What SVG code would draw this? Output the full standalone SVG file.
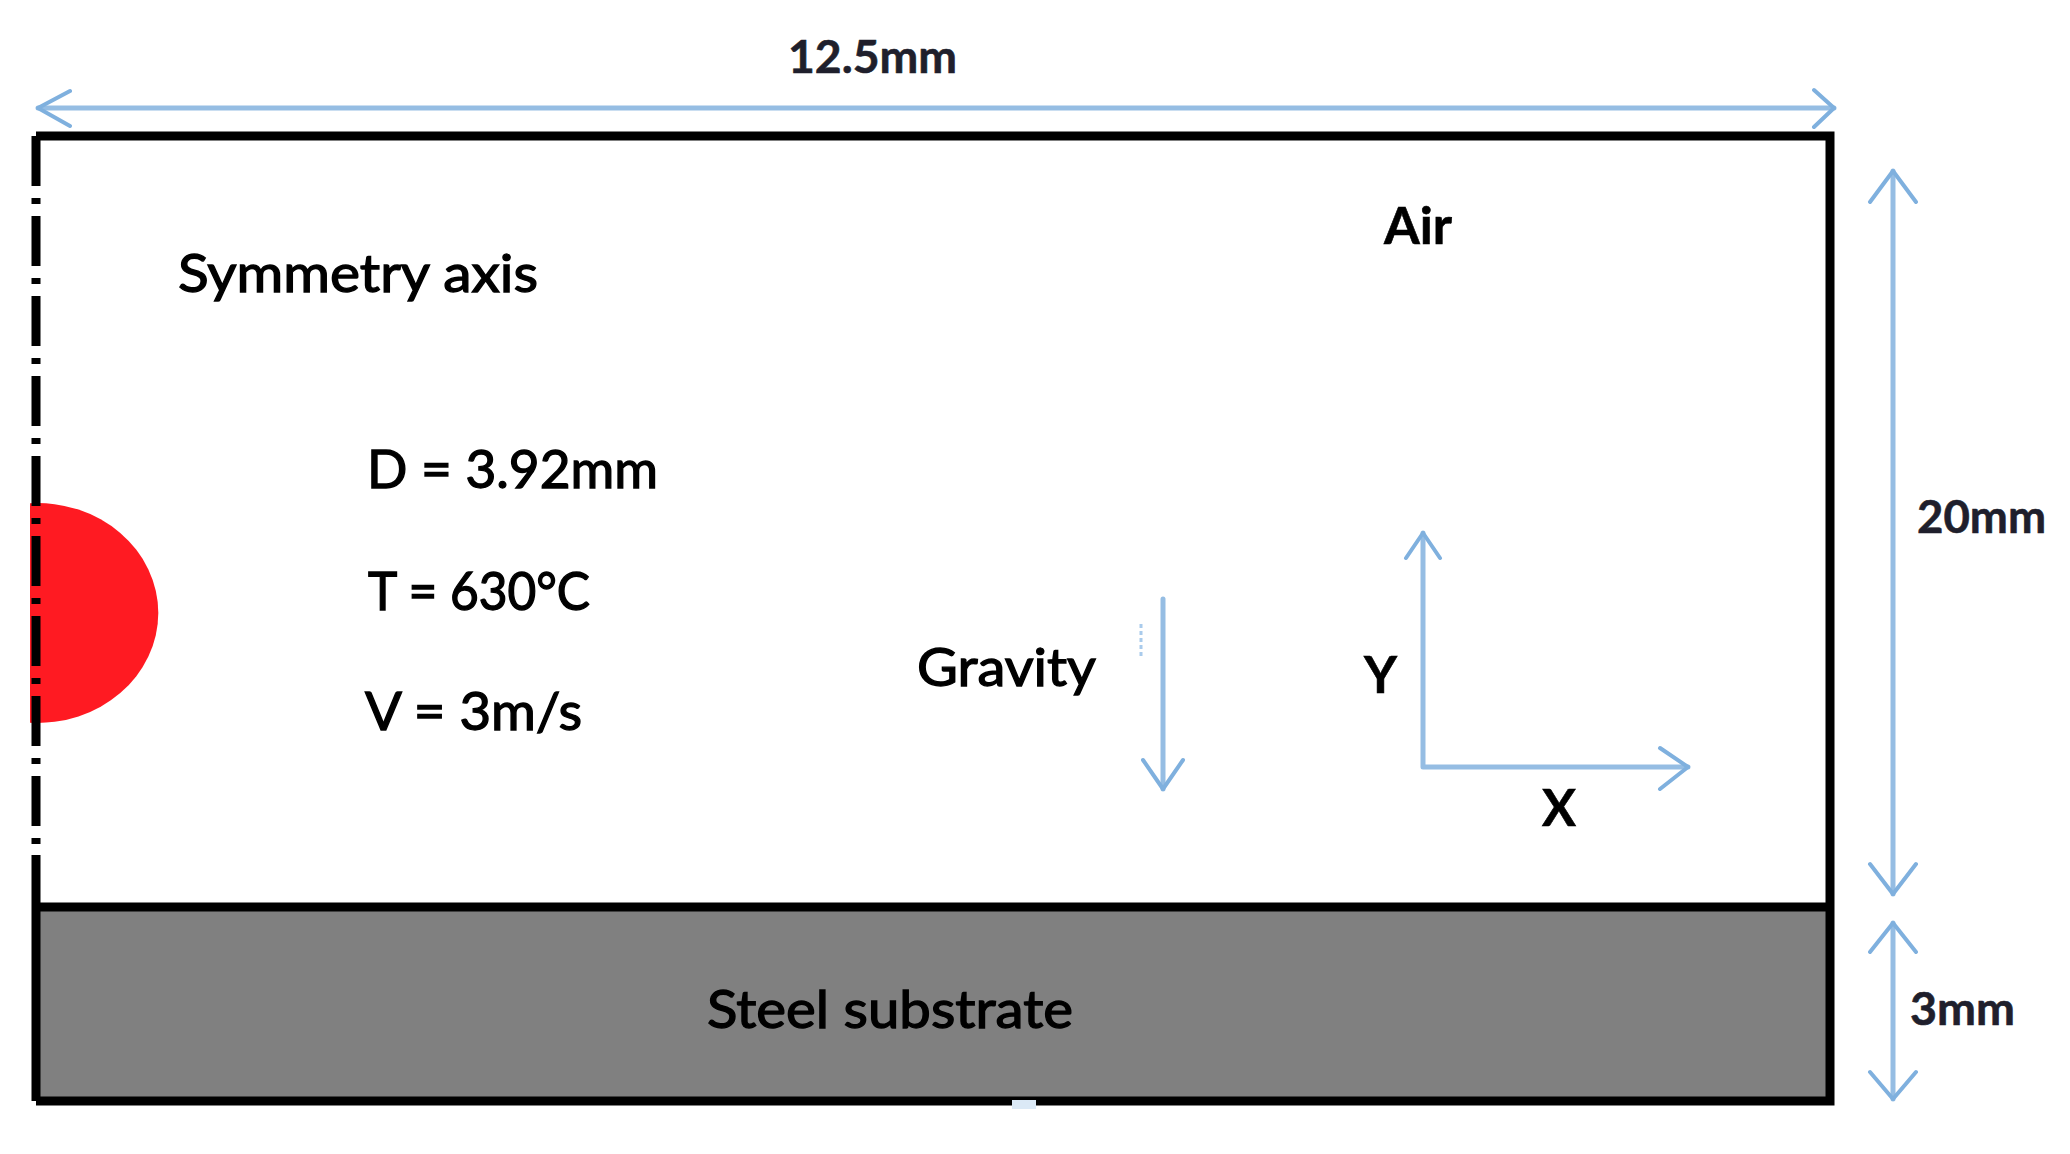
<svg xmlns="http://www.w3.org/2000/svg" width="2070" height="1154" viewBox="0 0 2070 1154">
<style>
.lbl{font-family:Lato,"Open Sans","Liberation Sans",sans-serif;font-size:52px;fill:#000;stroke:#000;stroke-width:1.3px}
.b{font-weight:bold;stroke-width:0.6px}
.dim{font-family:Lato,"Liberation Sans",sans-serif;font-weight:bold;font-size:45px;fill:#1f1f2c;stroke:#1f1f2c;stroke-width:0.6px}
.ax{fill:none;stroke:#95bde3;stroke-width:5;stroke-linecap:round;stroke-linejoin:round}
.hd{fill:none;stroke:#7fb0de;stroke-width:4;stroke-linecap:round;stroke-linejoin:round}
</style>
<rect width="2070" height="1154" fill="#fff"/>
<g id="substrate">
<rect x="36" y="907" width="1794" height="194" fill="#808080"/>
</g>
<g id="domain">
<path d="M36 136 H1830 V1101 H36" fill="none" stroke="#000" stroke-width="9"/>
<path d="M36 907 H1830" fill="none" stroke="#000" stroke-width="9"/>
<path d="M36 855 V1101" fill="none" stroke="#000" stroke-width="9"/>
</g>
<g id="droplet">
<path d="M30 503.2 A121 110 0 1 1 30 722.8 Z" fill="#ff1a22"/>
</g>
<g id="symmetry-axis">
<path d="M36 136 V855" fill="none" stroke="#000" stroke-width="9" stroke-dasharray="50 12 6 12"/>
</g>
<g id="connectors">
<g id="dim-width">
<path class="ax" d="M38 108 H1834"/>
<path class="hd" d="M70 91 L38 108 L70 126 M1814 90 L1834 108 L1814 127"/>
</g>
<g id="dim-air">
<path class="ax" d="M1893 171 V894"/>
<path class="hd" d="M1870 202 L1893 171 L1916 202 M1870 864 L1893 894 L1916 864"/>
</g>
<g id="dim-substrate">
<path class="ax" d="M1893 923 V1099"/>
<path class="hd" d="M1870 952 L1893 923 L1916 952 M1870 1072 L1893 1099 L1916 1072"/>
</g>
<g id="gravity-arrow">
<path class="ax" d="M1163 599 V789"/>
<path class="hd" d="M1143 760 L1163 789 L1183 760"/>
<path d="M1141 624 V656" stroke="#a9cbec" stroke-width="3" stroke-dasharray="4 3" fill="none"/>
</g>
<g id="axes">
<path class="ax" d="M1423 533 V767 H1688"/>
<path class="hd" d="M1406 558 L1423 533 L1440 558 M1660 748 L1688 767 L1660 789"/>
</g>
</g>
<rect x="1012" y="1100" width="24" height="9" fill="#dbe9f6"/>
<g id="labels">
<text class="dim" x="788" y="73" textLength="169" lengthAdjust="spacingAndGlyphs">12.5mm</text>
<text class="dim" x="1917" y="533" textLength="129" lengthAdjust="spacingAndGlyphs">20mm</text>
<text class="dim" x="1910" y="1025" textLength="105" lengthAdjust="spacingAndGlyphs">3mm</text>
<text class="lbl" x="178" y="292" textLength="360" lengthAdjust="spacingAndGlyphs">Symmetry axis</text>
<text class="lbl" x="367" y="488" textLength="291" lengthAdjust="spacingAndGlyphs">D = 3.92mm</text>
<text class="lbl" x="368" y="610" textLength="222" lengthAdjust="spacingAndGlyphs">T = 630°C</text>
<text class="lbl" x="365" y="730" textLength="217" lengthAdjust="spacingAndGlyphs">V = 3m/s</text>
<text class="lbl b" x="1384" y="244" textLength="68" lengthAdjust="spacingAndGlyphs">Air</text>
<text class="lbl" x="917" y="686" textLength="179" lengthAdjust="spacingAndGlyphs">Gravity</text>
<text class="lbl b" x="1364" y="693" textLength="33" lengthAdjust="spacingAndGlyphs">Y</text>
<text class="lbl b" x="1542" y="826" textLength="34" lengthAdjust="spacingAndGlyphs">X</text>
<text class="lbl" x="707" y="1028" textLength="366" lengthAdjust="spacingAndGlyphs">Steel substrate</text>
</g>
</svg>
